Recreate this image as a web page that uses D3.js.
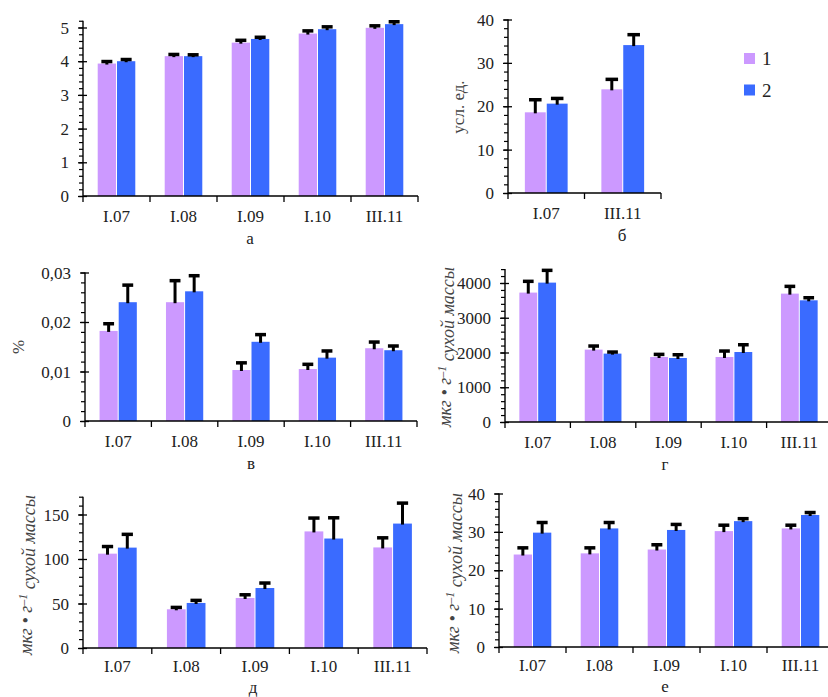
<!DOCTYPE html>
<html><head><meta charset="utf-8">
<script src="https://cdn.jsdelivr.net/npm/d3@7"></script>
<style>
body{margin:0;background:#fff}
svg{display:block}
svg text{font-family:"Liberation Serif","DejaVu Serif",serif;}
</style>
</head><body>
<svg id="chart" width="828" height="697"></svg>
<script>
// ---------- DATA ----------
const categories = ["I.07", "I.08", "I.09", "I.10", "III.11"];
const categoriesB = ["I.07", "III.11"];
const seriesNames = ["1", "2"];
const panelLetters = ["а", "б", "в", "г", "д", "е"];

// panel а
const aSeries1 = [3.93, 4.15, 4.55, 4.82, 4.99];
const aSeries2 = [4.00, 4.15, 4.66, 4.95, 5.10];
const aErr1 = [0.06, 0.05, 0.07, 0.08, 0.06];
const aErr2 = [0.05, 0.04, 0.05, 0.07, 0.07];
const aTicks = [0, 1, 2, 3, 4, 5];

// panel б
const bSeries1 = [18.6, 23.9];
const bSeries2 = [20.6, 34.1];
const bErr1 = [2.9, 2.3];
const bErr2 = [1.2, 2.4];
const bTicks = [0, 10, 20, 30, 40];

// panel в
const vSeries1 = [0.0182, 0.0240, 0.0103, 0.0105, 0.0147];
const vSeries2 = [0.0240, 0.0262, 0.0160, 0.0128, 0.0143];
const vErr1 = [0.00145, 0.00435, 0.00145, 0.00095, 0.00125];
const vErr2 = [0.00345, 0.00315, 0.00145, 0.00135, 0.00085];
const vTicks = [0, 0.01, 0.02, 0.03];
const vTickLabels = ["0", "0,01", "0,02", "0,03"];

// panel г
const gSeries1 = [3724, 2083, 1871, 1871, 3694];
const gSeries2 = [4011, 1968, 1842, 2014, 3502];
const gErr1 = [324, 103, 75, 171, 209];
const gErr2 = [353, 45, 94, 209, 74];
const gTicks = [0, 1000, 2000, 3000, 4000];

// panel д
const dSeries1 = [106, 43.5, 56.2, 131, 113];
const dSeries2 = [112.8, 50.6, 67.4, 123, 139.8];
const dErr1 = [8, 2.1, 3.6, 15, 10.8];
const dErr2 = [14.9, 2.9, 5.6, 23.3, 23];
const dTicks = [0, 50, 100, 150];

// panel е
const eSeries1 = [24.1, 24.4, 25.4, 30.2, 30.9];
const eSeries2 = [29.8, 30.9, 30.5, 32.8, 34.4];
const eErr1 = [1.74, 1.44, 1.24, 1.54, 0.84];
const eErr2 = [2.64, 1.54, 1.44, 0.64, 0.64];
const eTicks = [0, 10, 20, 30, 40];

const yTitleB = "усл. ед.";
const yTitleV = "%";
const yTitleMass = ["мкг • г", "–1", " сухой массы"];

// ---------- STYLE ----------
const colors = ["#CC99FF", "#3A6BFF"];

const svg = d3.select("#chart");

function drawPanel(cfg) {
  const g = svg.append("g");
  const x = d3.scaleBand().domain(cfg.cats).range([cfg.x0, cfg.x1]);
  const y = d3.scaleLinear().domain([0, cfg.ymax]).range([cfg.y0, cfg.ytop]);
  const band = x.bandwidth();
  const w = band * 0.273;
  const gap = 1;

  const rows = cfg.cats.map((c, i) => ({c, v: [cfg.s1[i], cfg.s2[i]], e: [cfg.e1[i], cfg.e2[i]]}));
  rows.forEach(r => {
    const cx = x(r.c) + band / 2;
    const start = cx - (2 * w + gap) / 2;
    [0, 1].forEach(k => {
      const bx = start + k * (w + gap);
      g.append("rect")
        .attr("x", bx).attr("y", y(r.v[k]))
        .attr("width", w).attr("height", y(0) - y(r.v[k]))
        .attr("fill", colors[k]);
    });
  });
  rows.forEach(r => {
    const cx = x(r.c) + band / 2;
    const start = cx - (2 * w + gap) / 2;
    [0, 1].forEach(k => {
      const mx = start + k * (w + gap) + w / 2;
      const top = y(r.v[k] + r.e[k]);
      g.append("line").attr("x1", mx).attr("x2", mx)
        .attr("y1", y(r.v[k]) + 1).attr("y2", top)
        .attr("stroke", "#000").attr("stroke-width", 3);
      const cw = w * 0.6;
      g.append("line").attr("x1", mx - cw / 2).attr("x2", mx + cw / 2)
        .attr("y1", top).attr("y2", top)
        .attr("stroke", "#000").attr("stroke-width", 3.5);
    });
  });

  const minor = d3.range(0, cfg.ymax + cfg.minorStep / 2, cfg.minorStep);
  const minorAxis = d3.axisLeft(y).tickValues(minor).tickSize(4).tickFormat("");
  const ga = g.append("g").attr("transform", `translate(${cfg.x0},0)`).call(minorAxis);
  ga.select(".domain").remove();
  ga.selectAll("line").attr("stroke", "#000").attr("stroke-width", 1.2);

  const majorAxis = d3.axisLeft(y).tickValues(cfg.ticks).tickSize(5).tickPadding(9)
    .tickFormat((d, i) => cfg.tickLabels ? cfg.tickLabels[i] : d3.format("d")(d));
  const gm = g.append("g").attr("transform", `translate(${cfg.x0},0)`).call(majorAxis);
  gm.attr("font-family", null).attr("font-size", null);
  gm.select(".domain").remove();
  gm.selectAll("line").attr("stroke", "#000").attr("stroke-width", 1.3);
  gm.selectAll("text").style("font-size", "17px")
    .attr("fill", "#222").attr("dy", "0.33em");

  const inner = d3.axisRight(y).tickValues(cfg.ticks).tickSize(4).tickFormat("");
  const gi = g.append("g").attr("transform", `translate(${cfg.x0},0)`).call(inner);
  gi.select(".domain").remove();
  gi.selectAll("line").attr("stroke", "#000").attr("stroke-width", 1.3);

  g.append("line").attr("x1", cfg.x0).attr("x2", cfg.x0)
    .attr("y1", y(0)).attr("y2", y(cfg.ymax))
    .attr("stroke", "#000").attr("stroke-width", 1.4);

  g.append("line").attr("x1", cfg.x0).attr("x2", cfg.x1)
    .attr("y1", cfg.y0).attr("y2", cfg.y0)
    .attr("stroke", "#000").attr("stroke-width", 1.4);
  const bounds = cfg.cats.map(c => x(c)).concat([cfg.x1]);
  bounds.forEach(bx => {
    g.append("line").attr("x1", bx).attr("x2", bx)
      .attr("y1", cfg.y0).attr("y2", cfg.y0 + 6)
      .attr("stroke", "#000").attr("stroke-width", 1.3);
  });
  cfg.cats.forEach(c => {
    g.append("text").attr("x", x(c) + band / 2).attr("y", cfg.y0 + cfg.catDy)
      .attr("text-anchor", "middle")
      .style("font-size", "17px").attr("fill", "#222").text(c);
  });

  g.append("text").attr("x", cfg.letterX).attr("y", cfg.y0 + cfg.letterDy)
    .attr("text-anchor", "middle")
    .style("font-size", "17px").attr("fill", "#222").text(cfg.letter);

  if (cfg.title) {
    const t = g.append("text")
      .attr("transform", `translate(${cfg.titleX},${cfg.titleY}) rotate(-90)`)
      .attr("text-anchor", "middle")
      .style("font-size", cfg.titleSize || "17px").attr("fill", "#444");
    if (Array.isArray(cfg.title)) {
      t.style("font-style", "italic");
      t.append("tspan").text(cfg.title[0]);
      t.append("tspan").attr("dy", "-0.45em").style("font-size", "12px").text(cfg.title[1]);
      t.append("tspan").attr("dy", "0.45em").text(cfg.title[2]);
    } else {
      t.text(cfg.title);
    }
  }
  return {x, y};
}

drawPanel({cats: categories, s1: aSeries1, s2: aSeries2, e1: aErr1, e2: aErr2,
  ticks: aTicks, ymax: 5.2, minorStep: 0.2,
  x0: 83, x1: 418, y0: 196, ytop: 196 - 5.2 * 33.7, catDy: 26,
  letter: panelLetters[0], letterX: 250, letterDy: 48});

drawPanel({cats: categoriesB, s1: bSeries1, s2: bSeries2, e1: bErr1, e2: bErr2,
  ticks: bTicks, ymax: 40, minorStep: 2,
  x0: 508, x1: 661, y0: 193, ytop: 19.5, catDy: 26,
  letter: panelLetters[1], letterX: 622, letterDy: 48,
  title: yTitleB, titleX: 464, titleY: 107});

drawPanel({cats: categories, s1: vSeries1, s2: vSeries2, e1: vErr1, e2: vErr2,
  ticks: vTicks, tickLabels: vTickLabels, ymax: 0.03, minorStep: 0.002,
  x0: 85, x1: 417, y0: 421, ytop: 272.5, catDy: 26,
  letter: panelLetters[2], letterX: 251, letterDy: 48,
  title: yTitleV, titleX: 24, titleY: 347});

drawPanel({cats: categories, s1: gSeries1, s2: gSeries2, e1: gErr1, e2: gErr2,
  ticks: gTicks, ymax: 4400, minorStep: 200,
  x0: 505, x1: 832, y0: 422, ytop: 422 - 4400 * 0.03475, catDy: 26,
  letter: panelLetters[3], letterX: 665, letterDy: 48,
  title: yTitleMass, titleSize: "18px", titleX: 451, titleY: 347});

drawPanel({cats: categories, s1: dSeries1, s2: dSeries2, e1: dErr1, e2: dErr2,
  ticks: dTicks, ymax: 170, minorStep: 10,
  x0: 83, x1: 427, y0: 648, ytop: 648 - 170 * 0.89, catDy: 24,
  letter: panelLetters[4], letterX: 253, letterDy: 45,
  title: yTitleMass, titleSize: "18px", titleX: 32, titleY: 575});

drawPanel({cats: categories, s1: eSeries1, s2: eSeries2, e1: eErr1, e2: eErr2,
  ticks: eTicks, ymax: 40, minorStep: 2,
  x0: 499, x1: 834, y0: 647, ytop: 493.5, catDy: 24,
  letter: panelLetters[5], letterX: 665, letterDy: 45,
  title: yTitleMass, titleSize: "18px", titleX: 459, titleY: 573});

const lg = svg.append("g");
seriesNames.forEach((n, i) => {
  lg.append("rect").attr("x", 744).attr("y", 53 + i * 31.5)
    .attr("width", 11).attr("height", 11).attr("fill", colors[i]);
  lg.append("text").attr("x", 762).attr("y", 65 + i * 31.5)
    .style("font-size", "19px").attr("fill", "#222").text(n);
});
</script>
</body></html>
